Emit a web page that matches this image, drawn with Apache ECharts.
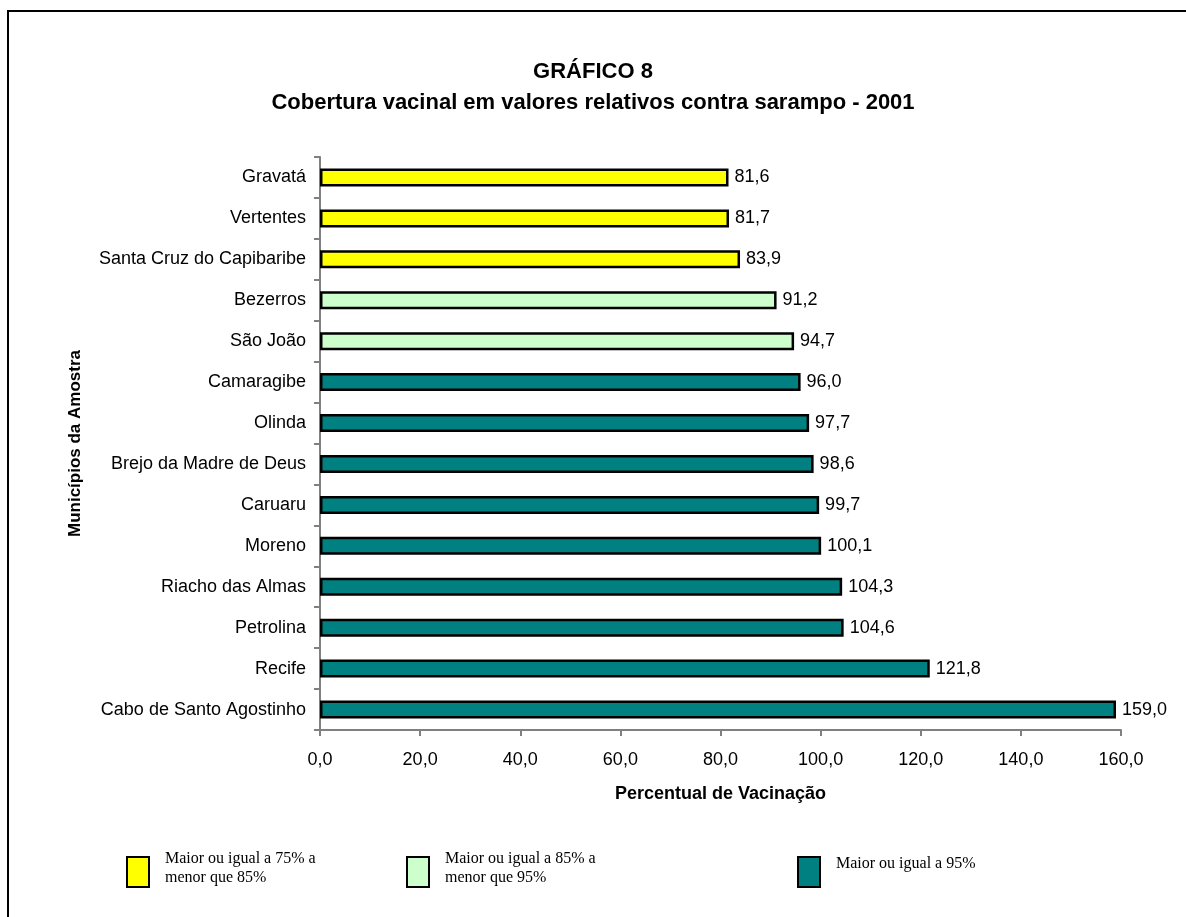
<!DOCTYPE html>
<html>
<head>
<meta charset="utf-8">
<script src="https://cdn.jsdelivr.net/npm/echarts@6/dist/echarts.min.js"></script>
<style>
  html, body { margin: 0; padding: 0; background: #fff; }
  #chart { width: 1186px; height: 917px; }
</style>
</head>
<body>
<div id="chart"></div>
<script>
// Municípios (top to bottom) and their measles vaccination coverage, 2001
const municipios = [
  'Gravatá', 'Vertentes', 'Santa Cruz do Capibaribe', 'Bezerros', 'São João',
  'Camaragibe', 'Olinda', 'Brejo da Madre de Deus', 'Caruaru', 'Moreno',
  'Riacho das Almas', 'Petrolina', 'Recife', 'Cabo de Santo Agostinho'
];
const cobertura = [81.6, 81.7, 83.9, 91.2, 94.7, 96.0, 97.7, 98.6, 99.7, 100.1, 104.3, 104.6, 121.8, 159.0];

// Coverage bands
const faixas = [
  { min: 75, max: 85, color: '#FFFF00', texto: ['Maior ou igual a 75% a', 'menor que 85%'] },
  { min: 85, max: 95, color: '#CCFFCC', texto: ['Maior ou igual a 85% a', 'menor que 95%'] },
  { min: 95, max: Infinity, color: '#008080', texto: ['Maior ou igual a 95%'] }
];
const xTicks = [0, 20, 40, 60, 80, 100, 120, 140, 160];

const fmt = v => v.toFixed(1).replace('.', ',');
const corDe = v => faixas.find(f => v >= f.min && v < f.max).color;
const sans = 'Liberation Sans, Arial, sans-serif';

const chart = echarts.init(document.getElementById('chart'));

const legendX = [127, 407, 798];
const legendGraphics = [];
faixas.forEach((f, i) => {
  legendGraphics.push({
    type: 'rect',
    shape: { x: legendX[i], y: 857, width: 22, height: 30 },
    style: { fill: f.color, stroke: '#000', lineWidth: 2 }
  });
  legendGraphics.push({
    type: 'text',
    x: legendX[i] + 38,
    y: f.texto.length > 1 ? 849 : 854,
    style: {
      text: f.texto.join('\n'),
      font: '16px "Liberation Serif", "Times New Roman", serif',
      fill: '#000',
      lineHeight: 19
    }
  });
});

chart.setOption({
  animation: false,
  backgroundColor: '#fff',
  title: {
    text: 'GRÁFICO 8\nCobertura vacinal em valores relativos contra sarampo - 2001',
    left: 'center',
    top: 51,
    textStyle: {
      fontFamily: sans,
      fontSize: 22,
      fontWeight: 'bold',
      color: '#000',
      lineHeight: 31
    }
  },
  grid: { left: 320, right: 65, top: 157, bottom: 187, containLabel: false },
  xAxis: {
    type: 'value',
    min: xTicks[0],
    max: xTicks[xTicks.length - 1],
    interval: xTicks[1] - xTicks[0],
    name: 'Percentual de Vacinação',
    nameLocation: 'middle',
    nameGap: 55,
    nameTextStyle: { fontFamily: sans, fontSize: 18, fontWeight: 'bold', color: '#000' },
    axisLine: { show: true, lineStyle: { color: '#808080', width: 2 } },
    axisTick: { show: true, length: 6, lineStyle: { color: '#808080', width: 2 } },
    axisLabel: {
      margin: 21,
      fontFamily: sans,
      fontSize: 18,
      color: '#000',
      formatter: v => fmt(v)
    },
    splitLine: { show: false }
  },
  yAxis: {
    type: 'category',
    inverse: true,
    data: municipios,
    name: 'Municípios da Amostra',
    nameLocation: 'middle',
    nameGap: 236,
    nameRotate: 90,
    nameTextStyle: { fontFamily: sans, fontSize: 17, fontWeight: 'bold', color: '#000' },
    axisLine: { show: true, lineStyle: { color: '#808080', width: 2 } },
    axisTick: { show: true, length: 6, lineStyle: { color: '#808080', width: 2 } },
    axisLabel: {
      margin: 14,
      fontFamily: sans,
      fontSize: 18,
      color: '#000'
    },
    splitLine: { show: false }
  },
  series: [{
    type: 'bar',
    barWidth: 18,
    data: cobertura.map(v => ({
      value: v,
      itemStyle: { color: corDe(v), borderColor: '#000', borderWidth: 2.5 }
    })),
    label: {
      show: true,
      position: 'right',
      distance: 6,
      fontFamily: sans,
      fontSize: 18,
      color: '#000',
      formatter: p => fmt(p.value)
    }
  }],
  graphic: [
    {
      type: 'rect',
      shape: { x: 8, y: 11, width: 1300, height: 1000 },
      style: { fill: 'none', stroke: '#000', lineWidth: 2 },
      z: 100
    }
  ].concat(legendGraphics)
});
</script>
</body>
</html>
